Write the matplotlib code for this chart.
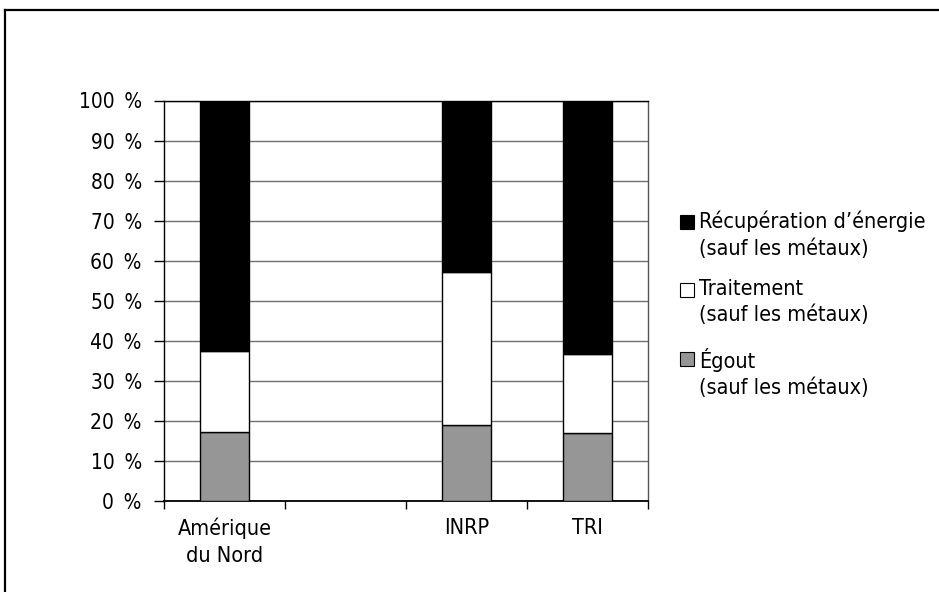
import numpy as np
import matplotlib
matplotlib.use('Agg')
import matplotlib.pyplot as plt
from matplotlib import font_manager
from matplotlib.patches import Rectangle
from matplotlib.lines import Line2D

# ── données ──
categories = ['Amérique\ndu Nord', '', 'INRP', 'TRI']
egout = [17.3, np.nan, 19.1, 17.1]
traitement = [20.1, np.nan, 38.0, 19.5]
recuperation = [62.6, np.nan, 42.9, 63.4]
series_labels = ['Récupération d\u2019énergie\n(sauf les métaux)',
                 'Traitement\n(sauf les métaux)',
                 'Égout\n(sauf les métaux)']
yticks = [0, 10, 20, 30, 40, 50, 60, 70, 80, 90, 100]

# police étroite si disponible
cond = [f for f in font_manager.fontManager.ttflist
        if 'Condensed' in f.fname and 'DejaVuSans' in f.fname and 'Bold' not in f.fname
        and 'Oblique' not in f.fname]
plt.rcParams['font.family'] = ['DejaVu Sans']
if cond:
    plt.rcParams['font.stretch'] = 'condensed'

W, H = 939, 592
fig = plt.figure(figsize=(W / 100, H / 100), dpi=100)
ax = fig.add_axes([164 / W, 1 - 501 / H, (648 - 164) / W, (501 - 100.5) / H])

x = np.arange(len(categories))
eg = np.array(egout)
tr = np.array(traitement)
rc = np.array(recuperation)
bw = 0.4
kw = dict(width=bw, edgecolor='black', linewidth=1.0, zorder=3)
ax.bar(x, eg, color='#969696', **kw)
ax.bar(x, tr, bottom=eg, color='white', **kw)
ax.bar(x, rc, bottom=eg + tr, color='black', **kw)

ax.set_xlim(-0.5, len(categories) - 0.5)
ax.set_ylim(0, 100)
ax.set_yticks(yticks)
ax.set_yticklabels([f'{v} \u2009%' for v in yticks], fontsize=15)
ax.yaxis.grid(True, color='#707070', linewidth=1.0, zorder=0)
ax.set_axisbelow(True)

ax.set_xticks(np.arange(len(categories) + 1) - 0.5)
ax.set_xticklabels([])
ax.set_xticks(x, minor=True)
ax.set_xticklabels(categories, minor=True, fontsize=15.5, linespacing=1.4)
ax.tick_params(axis='x', which='minor', length=0, pad=12)
ax.tick_params(axis='x', which='major', length=6, width=1, direction='out')
ax.tick_params(axis='y', length=7, width=1, pad=9)

for s in ax.spines.values():
    s.set_color('black')
    s.set_linewidth(1.0)
ax.spines['bottom'].set_linewidth(1.3)
ax.spines['right'].set_color('#555555')

# ── légende manuelle ──
face = ['black', 'white', '#969696']
sq_top = [215, 283, 352]
for lab, fc, top in zip(series_labels, face, sq_top):
    fig.add_artist(Rectangle((680 / W, 1 - (top + 14) / H), 14 / W, 14 / H,
                             facecolor=fc, edgecolor='black', linewidth=0.8,
                             transform=fig.transFigure))
    fig.text(699 / W, 1 - (top - 4) / H, lab, fontsize=15.5, va='top',
             ha='left', linespacing=1.35)

# ── cadre ──
fig.add_artist(Line2D([5 / W, 1.0], [1 - 10 / H, 1 - 10 / H], color='black',
                      linewidth=1.6, transform=fig.transFigure))
fig.add_artist(Line2D([5 / W, 5 / W], [0.0, 1 - 10 / H], color='black',
                      linewidth=1.6, transform=fig.transFigure))

fig.savefig('out.png', dpi=100)
